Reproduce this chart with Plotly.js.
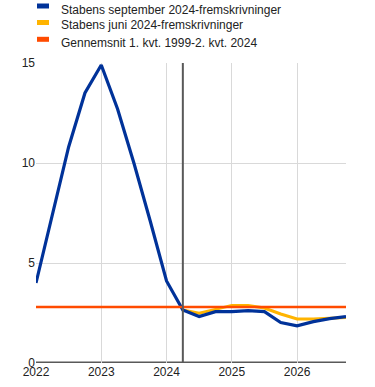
<!DOCTYPE html>
<html>
<head>
<meta charset="utf-8">
<script src="https://cdn.plot.ly/plotly-3.0.1.min.js"></script>
<style>html,body{margin:0;padding:0;background:#fff}#chart{width:375px;height:387px}</style>
</head>
<body>
<div id="chart"></div>
<script>
// Quarterly periods (2022 Q1 – 2026 Q4)
const quarters = ["2022Q1","2022Q2","2022Q3","2022Q4","2023Q1","2023Q2","2023Q3","2023Q4",
  "2024Q1","2024Q2","2024Q3","2024Q4","2025Q1","2025Q2","2025Q3","2025Q4",
  "2026Q1","2026Q2","2026Q3","2026Q4"];
// Staff September 2024 projections (incl. history)
const septValues = [4.0, 7.4, 10.8, 13.5, 14.9, 12.7, 10.0, 7.1,
  4.1, 2.65, 2.32, 2.57, 2.57, 2.62, 2.57, 2.02,
  1.86, 2.07, 2.22, 2.32];
// Staff June 2024 projections (from 2024 Q2)
const juneQuarters = ["2024Q2","2024Q3","2024Q4","2025Q1","2025Q2","2025Q3","2025Q4","2026Q1","2026Q2","2026Q3","2026Q4"];
const juneValues = [2.65, 2.49, 2.68, 2.88, 2.88, 2.75, 2.45, 2.2, 2.2, 2.25, 2.28];
// Average 1999 Q1 – 2024 Q2
const averageValue = 2.8;
const cutoffQuarter = "2024Q2";
const seriesNames = ["Stabens september 2024-fremskrivninger","Stabens juni 2024-fremskrivninger","Gennemsnit 1. kvt. 1999-2. kvt. 2024"];
const seriesColors = ["#003299", "#FFB400", "#FF4B00"];
const yearTicks = [2022, 2023, 2024, 2025, 2026];
const yTicks = [0, 5, 10, 15];

function qpos(q){ const y = parseInt(q.slice(0,4)); const n = parseInt(q.slice(5)); return y + (n-1)/4; }

const xs = quarters.map(qpos);
const traces = [
  {x: juneQuarters.map(qpos), y: juneValues, name: seriesNames[1], mode: "lines",
   line: {color: seriesColors[1], width: 3}, hoverinfo: "skip"},
  {x: xs, y: septValues, name: seriesNames[0], mode: "lines",
   line: {color: seriesColors[0], width: 3.2}, hoverinfo: "skip"},
  {x: xs, y: quarters.map(() => averageValue), name: seriesNames[2], mode: "lines",
   line: {color: seriesColors[2], width: 2.6}, hoverinfo: "skip"}
];

// Plot area geometry (px) for the custom legend placement
const W = 375, H = 387, M = {l: 36, r: 29, t: 63, b: 24};
const pw = W - M.l - M.r, ph = H - M.t - M.b;
const px = v => (v - M.l) / pw;
const py = v => (H - M.b - v) / ph;
const legendRows = [6, 22.5, 39.3];   // swatch centre y (px)
const textRows = [9.5, 25.3, 42.8];   // text centre y (px)

const shapes = [
  {type: "line", xref: "x", yref: "paper", x0: qpos(cutoffQuarter), x1: qpos(cutoffQuarter), y0: 0, y1: 1,
   line: {color: "#595959", width: 2}},
  {type: "line", xref: "paper", yref: "y", x0: 0, x1: 1, y0: 0, y1: 0,
   line: {color: "#595959", width: 3}, layer: "below"}
];
const annotations = [];
seriesNames.forEach((name, i) => {
  shapes.push({type: "line", xref: "paper", yref: "paper", x0: px(37), x1: px(49),
    y0: py(legendRows[i]), y1: py(legendRows[i]), line: {color: seriesColors[i], width: 5}});
  annotations.push({xref: "paper", yref: "paper", x: px(59), y: py(textRows[i]), xanchor: "left", yanchor: "middle",
    text: name, showarrow: false, font: {size: 12, color: "#222"}});
});

const layout = {
  width: W, height: H,
  margin: M,
  paper_bgcolor: "#fff", plot_bgcolor: "#fff",
  font: {family: "Liberation Sans, Arial, sans-serif", size: 12, color: "#000"},
  showlegend: false,
  xaxis: {range: [2022, 2026.75], tickvals: yearTicks, ticktext: yearTicks.map(String),
          showgrid: true, gridcolor: "#d9d9d9", gridwidth: 1, zeroline: false,
          showline: false, ticks: "", tickfont: {size: 12, color: "#222"}, fixedrange: true},
  yaxis: {range: [0, 15], tickvals: yTicks, showgrid: true, gridcolor: "#d9d9d9", gridwidth: 1,
          zeroline: false, showline: false, ticks: "", tickfont: {size: 12, color: "#222"}, fixedrange: true},
  shapes: shapes,
  annotations: annotations
};
Plotly.newPlot("chart", traces, layout, {displayModeBar: false, staticPlot: true});
</script>
</body>
</html>
